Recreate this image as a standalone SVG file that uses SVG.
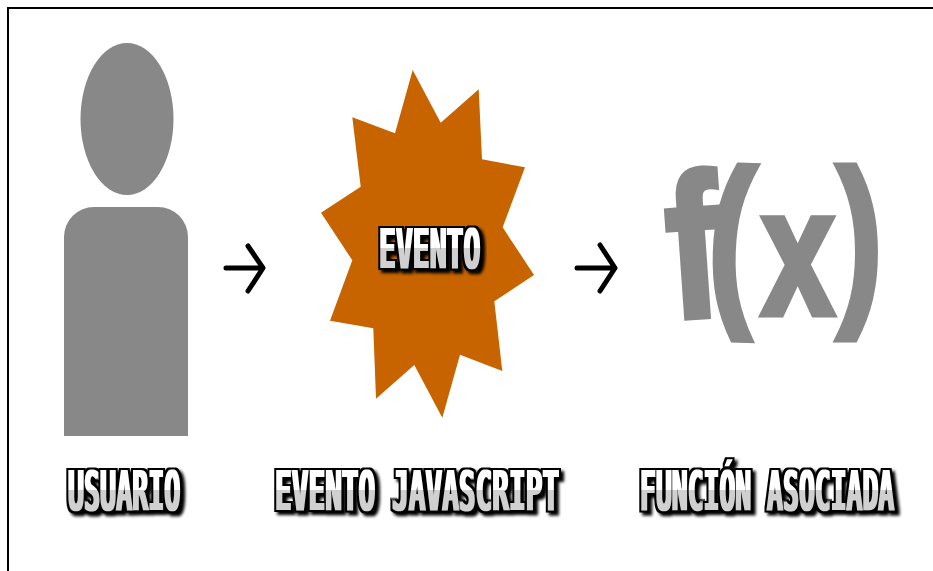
<svg xmlns="http://www.w3.org/2000/svg" width="933" height="571" viewBox="0 0 933 571">
<style>
.shape{fill:#888888}
.arrow{fill:none;stroke:#000;stroke-width:5;stroke-linecap:round;stroke-linejoin:round}
.lbl{font-family:"DejaVu Sans Mono",monospace;font-weight:700;font-size:55px;fill:url(#g)}
.pix{filter:url(#pix)}
.fx{font-family:"Liberation Sans",Arial,sans-serif;font-weight:700;fill:#888888;stroke:#888888;stroke-linejoin:miter}
</style>
<defs>
<filter id="pix" x="-6%" y="-40%" width="112%" height="190%" color-interpolation-filters="sRGB">
<feMorphology in="SourceGraphic" operator="dilate" radius="1 0" result="fat"/>
<feMorphology in="fat" operator="dilate" radius="2" result="wide"/>
<feFlood flood-color="#000"/>
<feComposite in2="wide" operator="in" result="black"/>
<feOffset in="black" dx="3" dy="3"/>
<feGaussianBlur stdDeviation="1.5" result="shadow"/>
<feMerge><feMergeNode in="shadow"/><feMergeNode in="black"/><feMergeNode in="fat"/></feMerge>
</filter>
<linearGradient id="g" gradientUnits="userSpaceOnUse" x1="0" y1="-40" x2="0" y2="0"><stop offset=".5" stop-color="#fff"/><stop offset=".5" stop-color="#d0d0d0"/></linearGradient>
</defs>
<rect width="933" height="571" fill="#fff"/>
<path d="M8 571V8H933" fill="none" stroke="#000" stroke-width="2"/>
<g id="usuario">
<ellipse class="shape" cx="127" cy="119" rx="46.5" ry="76"/>
<path class="shape" d="M64 436V237a30 30 0 0 1 30-30h64a30 30 0 0 1 30 30V436Z"/>
<g class="pix"><text class="lbl" transform="translate(68,510) scale(.485,1)">USUARIO</text></g>
</g>
<g id="evento">
<polygon points="412.7,70 440.7,122.7 478.7,89.3 482,159.3 525,167.3 502.7,227.3 534,275 494.3,301.3 502.3,371 460,354.7 442.3,417.7 414.3,365 376,398.7 373.3,328.3 330,320.7 352.3,260.3 321,212.7 360.7,186.7 352.3,117.3 395,133.3" fill="#c86400"/>
<g class="pix"><text class="lbl" transform="translate(379,268) scale(.51,1)">EVENTO</text></g>
<g class="pix"><text class="lbl" transform="translate(275,510) scale(.505,1)">EVENTO JAVASCRIPT</text></g>
</g>
<g id="funcion">
<text class="fx" font-size="186" stroke-width="5" transform="translate(671,319) rotate(-4) scale(.88,1.1)">f</text>
<text class="fx" font-size="186" stroke-width="5" transform="translate(706,300) rotate(2) scale(.76,1.01)">(</text>
<text class="fx" font-size="150" stroke-width="6" transform="translate(762,314) scale(.86,1.2)">x</text>
<text class="fx" font-size="186" stroke-width="5" transform="translate(836,301) scale(.76,1.01)">)</text>
<g class="pix"><text class="lbl" transform="translate(640,510) scale(.48,1)">FUNCIÓN ASOCIADA</text></g>
</g>
<g id="connectors">
<path class="arrow" d="M226 268H262M248 246L263 268L248 291"/>
<path class="arrow" d="M577 268H615M600 245L615 268L600 291"/>
</g>
</svg>
